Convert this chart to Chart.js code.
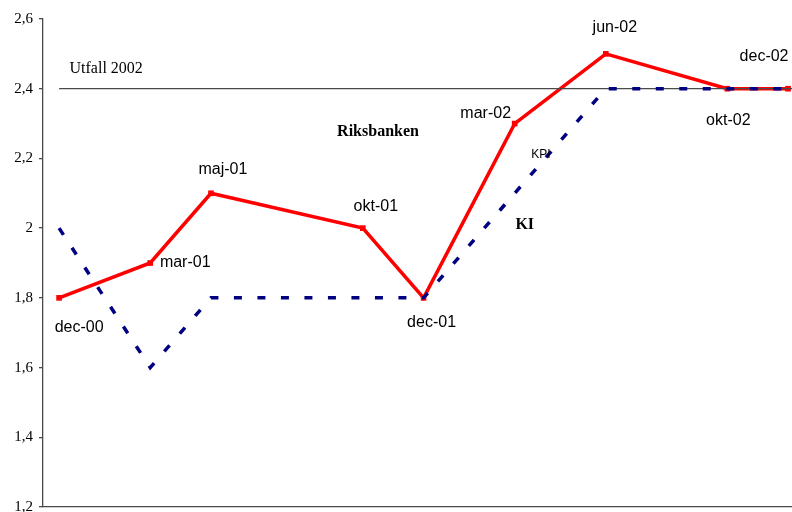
<!DOCTYPE html>
<html>
<head>
<meta charset="utf-8">
<style>
  html, body { margin: 0; padding: 0; background: #fff; }
  #wrap { width: 792px; height: 512px; position: relative; }
</style>
<script src="https://cdn.jsdelivr.net/npm/chart.js@4/dist/chart.umd.min.js"></script>
</head>
<body>
<div id="wrap"><canvas id="c" width="792" height="512"></canvas></div>
<script>
// Forecast dates and the month each falls on (months after Dec 2000)
const periods = ['dec-00', 'mar-01', 'maj-01', 'okt-01', 'dec-01', 'mar-02', 'jun-02', 'okt-02', 'dec-02'];
const monthIndex = [0, 3, 5, 10, 12, 15, 18, 22, 24];

// Inflation forecasts for 2002 (KPI, per cent)
const riksbanken = [1.8, 1.9, 2.1, 2.0, 1.8, 2.3, 2.5, 2.4, 2.4];
const ki = [2.0, 1.6, 1.8, 1.8, 1.8, 2.1, 2.4, 2.4, 2.4];

// Actual outcome 2002
const utfall2002 = 2.4;

// Value axis
const yMin = 1.2, yMax = 2.6, yStep = 0.2;

// Label placement around each Riksbanken point (pixel offsets from the point)
const labelOffsets = [
  [20, 30], [35, 0], [12, -24], [13, -22], [8, 25],
  [-29, -10], [9, -26], [1, 32], [-24, -32]
];

const xMin = -0.53, xMax = 24.13;

const toPoints = (vals) => vals.map((v, i) => ({ x: monthIndex[i], y: v }));

const annotations = {
  id: 'annotations',
  afterDatasetsDraw(chart) {
    const ctx = chart.ctx;
    const xs = chart.scales.x, ys = chart.scales.y;
    ctx.save();
    ctx.textAlign = 'center';
    ctx.textBaseline = 'middle';
    ctx.fillStyle = '#000';
    // point labels
    ctx.font = '16px "Liberation Sans", Arial, sans-serif';
    periods.forEach((p, i) => {
      const px = xs.getPixelForValue(monthIndex[i]);
      const py = ys.getPixelForValue(riksbanken[i]);
      ctx.fillText(p, px + labelOffsets[i][0], py + labelOffsets[i][1]);
    });
    // series and reference labels
    ctx.font = 'bold 16px "Liberation Serif", "Times New Roman", serif';
    ctx.fillText('Riksbanken', xs.getPixelForValue(10.5), ys.getPixelForValue(2.275));
    ctx.fillText('KI', xs.getPixelForValue(15.33), ys.getPixelForValue(2.01));
    ctx.font = '12px "Liberation Sans", Arial, sans-serif';
    ctx.fillText('KPI', xs.getPixelForValue(15.86), ys.getPixelForValue(2.21));
    ctx.font = '16px "Liberation Serif", "Times New Roman", serif';
    ctx.fillText('Utfall 2002', xs.getPixelForValue(1.55), ys.getPixelForValue(2.457));
    ctx.restore();
  }
};

new Chart(document.getElementById('c'), {
  type: 'line',
  data: {
    datasets: [
      {
        label: 'KI',
        data: toPoints(ki),
        borderColor: '#000080',
        borderWidth: 3.5,
        borderDash: [8, 15.5],
        pointRadius: 0,
        tension: 0,
        order: 1
      },
      {
        label: 'Utfall 2002',
        data: [{ x: 0, y: utfall2002 }, { x: xMax, y: utfall2002 }],
        borderColor: '#4a4a4a',
        borderWidth: 1.3,
        pointRadius: 0,
        tension: 0,
        order: 2
      },
      {
        label: 'Riksbanken',
        data: toPoints(riksbanken),
        borderColor: '#ff0000',
        backgroundColor: '#ff0000',
        borderWidth: 3.5,
        pointStyle: 'rect',
        pointRadius: 4,
        pointBorderWidth: 0,
        tension: 0,
        clip: false,
        order: 3
      }
    ]
  },
  options: {
    responsive: false,
    animation: false,
    devicePixelRatio: 1,
    layout: { autoPadding: false, padding: { top: 19, right: 0, bottom: 0, left: 0 } },
    plugins: { legend: { display: false }, tooltip: { enabled: false } },
    scales: {
      x: {
        type: 'linear',
        min: xMin,
        max: xMax,
        grid: { display: false },
        ticks: { display: false },
        border: { display: true, color: '#4a4a4a', width: 1.3 },
        afterFit: (s) => { s.height = 5; s.paddingLeft = 0; s.paddingRight = 0; }
      },
      y: {
        min: yMin,
        max: yMax,
        grid: { drawOnChartArea: false, drawTicks: true, tickLength: 4, color: '#4a4a4a', lineWidth: 1.3 },
        border: { display: true, color: '#4a4a4a', width: 1.3 },
        ticks: {
          stepSize: yStep,
          padding: 6,
          color: '#000',
          font: { family: '"Liberation Serif", "Times New Roman", serif', size: 15 },
          callback: (v) => {
            const r = Math.round(v * 10) / 10;
            return Number.isInteger(r) ? String(r) : r.toFixed(1).replace('.', ',');
          }
        },
        afterFit: (s) => { s.width = 43; s.paddingTop = 0; s.paddingBottom = 0; }
      }
    }
  },
  plugins: [annotations]
});
</script>
</body>
</html>
